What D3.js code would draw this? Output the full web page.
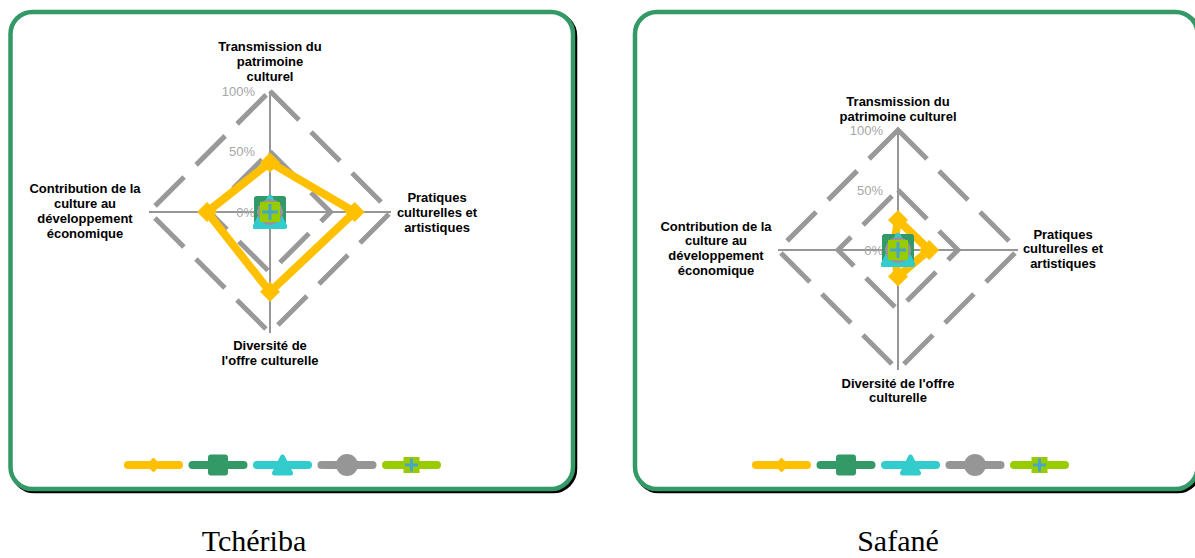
<!DOCTYPE html>
<html><head><meta charset="utf-8">
<script src="https://cdn.jsdelivr.net/npm/d3@7"></script>
<style>html,body{margin:0;padding:0;background:#fff;} svg{display:block}</style>
</head><body>
<svg id="c" width="1195" height="558"></svg>
<script>
// ---------- DATA ----------
const categories = ["Transmission du patrimoine culturel", "Pratiques culturelles et artistiques", "Diversité de l'offre culturelle", "Contribution de la culture au développement économique"];
const tickValues = [0, 0.5, 1];
const tickLabels = ["0%", "50%", "100%"];
const seriesNames = ["Série 1", "Série 2", "Série 3", "Série 4", "Série 5"];
const chartTitles = ["Tchériba", "Safané"];
// values in axis order: top, right, bottom, left
const tcheribaSerie1 = [0.41, 0.70, 0.66, 0.52];
const tcheribaSerie2 = [0, 0, 0, 0];
const tcheribaSerie3 = [0, 0, 0, 0];
const tcheribaSerie4 = [0, 0, 0, 0];
const tcheribaSerie5 = [0, 0, 0, 0];
const safaneSerie1 = [0.25, 0.26, 0.22, 0.04];
const safaneSerie2 = [0, 0, 0, 0];
const safaneSerie3 = [0, 0, 0, 0];
const safaneSerie4 = [0, 0, 0, 0];
const safaneSerie5 = [0, 0, 0, 0];
// wrapped category labels as displayed in each chart
const tcheribaLabelLines = [["Transmission du", "patrimoine", "culturel"], ["Pratiques", "culturelles et", "artistiques"], ["Diversité de", "l'offre culturelle"], ["Contribution de la", "culture au", "développement", "économique"]];
const safaneLabelLines = [["Transmission du", "patrimoine culturel"], ["Pratiques", "culturelles et", "artistiques"], ["Diversité de l'offre", "culturelle"], ["Contribution de la", "culture au", "développement", "économique"]];

// ---------- STYLE / LAYOUT ----------
const seriesColors = ["#FFC000", "#339966", "#33CCCC", "#969696", "#99CC00"];
const markerTypes = ["diamond", "square", "triangle", "circle", "crossSquare"];
const crossColor = "#46a6c8";
const borderGreen = "#339966";
const gridColor = "#999999";

const charts = [
  { title: chartTitles[0], series: [tcheribaSerie1, tcheribaSerie2, tcheribaSerie3, tcheribaSerie4, tcheribaSerie5],
    labels: tcheribaLabelLines, panelX: 10.5, cx: 270, cy: 212, R: 121,
    labelPos: [[270, 46], [437, 197], [270, 345], [85, 188]], lineH: 15.2, legendX: 124, captionX: 254 },
  { title: chartTitles[1], series: [safaneSerie1, safaneSerie2, safaneSerie3, safaneSerie4, safaneSerie5],
    labels: safaneLabelLines, panelX: 635, cx: 898, cy: 250, R: 120,
    labelPos: [[898, 101.5], [1063, 234], [898, 383], [716, 226]], lineH: 14.8, legendX: 752, captionX: 898 }
];

const svg = d3.select("#c");
svg.append("rect").attr("width", 1195).attr("height", 558).attr("fill", "#fff");

function markerPath(g, type, x, y, s, color) {
  if (type === "diamond") {
    g.append("path").attr("d", `M${x},${y - s.h / 2}L${x + s.w / 2},${y}L${x},${y + s.h / 2}L${x - s.w / 2},${y}Z`).attr("fill", color);
  } else if (type === "square") {
    g.append("rect").attr("x", x - s.w / 2).attr("y", y - s.h / 2).attr("width", s.w).attr("height", s.h).attr("rx", s.rx).attr("fill", color);
  } else if (type === "triangle") {
    const w = s.w - 5, h = s.h - 5;
    g.append("path").attr("d", `M${x},${y - h / 2}L${x + w / 2},${y + h / 2}L${x - w / 2},${y + h / 2}Z`)
      .attr("fill", color).attr("stroke", color).attr("stroke-width", 5).attr("stroke-linejoin", "round");
  } else if (type === "circle") {
    g.append("circle").attr("cx", x).attr("cy", y).attr("r", s.w / 2).attr("fill", color);
  } else if (type === "crossSquare") {
    g.append("rect").attr("x", x - s.w / 2).attr("y", y - s.h / 2).attr("width", s.w).attr("height", s.h).attr("fill", color);
    const c = s.c / 2;
    g.append("path").attr("d", `M${x - c},${y}H${x + c}M${x},${y - c}V${y + c}`).attr("stroke", crossColor).attr("stroke-width", 3);
  }
}

const chartMarkerSizes = [
  { w: 20, h: 20 }, { w: 32, h: 32, rx: 4 }, { w: 34, h: 34 }, { w: 25, h: 25 }, { w: 20, h: 20, c: 16 }
];
const legendMarkerSizes = [
  { w: 15, h: 15 }, { w: 20, h: 21, rx: 3 }, { w: 21, h: 21 }, { w: 22, h: 22 }, { w: 16, h: 16, c: 13 }
];

charts.forEach(ch => {
  const g = svg.append("g");
  // panel with shadow
  const pw = 562.5, ph = 477, py = 12;
  g.append("rect").attr("x", ch.panelX + 2).attr("y", py + 2).attr("width", pw).attr("height", ph).attr("rx", 22)
    .attr("fill", "none").attr("stroke", "#000").attr("stroke-width", 4.5);
  g.append("rect").attr("x", ch.panelX).attr("y", py).attr("width", pw).attr("height", ph).attr("rx", 22)
    .attr("fill", "#fff").attr("stroke", borderGreen).attr("stroke-width", 4.5);

  const r = d3.scaleLinear().domain([0, 1]).range([0, ch.R]);
  const angle = d3.scaleLinear().domain([0, categories.length]).range([-Math.PI / 2, 1.5 * Math.PI]);
  const pt = (i, v) => [ch.cx + r(v) * Math.cos(angle(i)), ch.cy + r(v) * Math.sin(angle(i))];

  // grid rings (dashed)
  tickValues.filter(v => v > 0).forEach(v => {
    const pts = categories.map((c, i) => pt(i, v));
    g.append("path").attr("d", "M" + pts.map(p => p.join(",")).join("L") + "Z")
      .attr("fill", "none").attr("stroke", gridColor).attr("stroke-width", 5)
      .attr("stroke-dasharray", "41,17").attr("stroke-linejoin", "miter");
  });
  // axes
  categories.forEach((c, i) => {
    const p = pt(i, 1);
    g.append("line").attr("x1", ch.cx).attr("y1", ch.cy).attr("x2", p[0]).attr("y2", p[1])
      .attr("stroke", "#969696").attr("stroke-width", 2);
  });
  // tick labels
  tickValues.forEach((v, k) => {
    g.append("text").attr("x", ch.cx - 15).attr("y", ch.cy - r(v)).attr("text-anchor", "end")
      .attr("dominant-baseline", "central").attr("font-family", "'Liberation Sans', Arial, sans-serif")
      .attr("font-size", 13).attr("fill", "#a6a6a6").text(tickLabels[k]);
  });
  // series
  ch.series.forEach((vals, s) => {
    const pts = vals.map((v, i) => pt(i, v));
    g.append("path").attr("d", "M" + pts.map(p => p.join(",")).join("L") + "Z")
      .attr("fill", "none").attr("stroke", seriesColors[s]).attr("stroke-width", 8).attr("stroke-linejoin", "round");
    pts.forEach(p => markerPath(g, markerTypes[s], p[0], p[1], chartMarkerSizes[s], seriesColors[s]));
  });
  // category labels
  ch.labels.forEach((lines, i) => {
    const t = g.append("text").attr("text-anchor", "middle").attr("font-family", "'Liberation Sans', Arial, sans-serif")
      .attr("font-weight", "bold").attr("font-size", 13).attr("fill", "#000");
    lines.forEach((ln, j) => {
      t.append("tspan").attr("x", ch.labelPos[i][0]).attr("y", ch.labelPos[i][1] + j * ch.lineH)
        .attr("dominant-baseline", "central").text(ln);
    });
  });
  // legend
  const ly = 465, step = 64.5;
  seriesNames.forEach((n, s) => {
    const x0 = ch.legendX + s * step;
    g.append("line").attr("x1", x0 + 4).attr("x2", x0 + 55).attr("y1", ly).attr("y2", ly)
      .attr("stroke", seriesColors[s]).attr("stroke-width", 8).attr("stroke-linecap", "round");
    markerPath(g, markerTypes[s], x0 + 29.5, ly, legendMarkerSizes[s], seriesColors[s]);
  });
  // caption
  svg.append("text").attr("x", ch.captionX).attr("y", 551).attr("text-anchor", "middle")
    .attr("font-family", "'Liberation Serif', 'Times New Roman', serif").attr("font-size", 30).attr("fill", "#000").text(ch.title);
});
</script>
</body></html>
